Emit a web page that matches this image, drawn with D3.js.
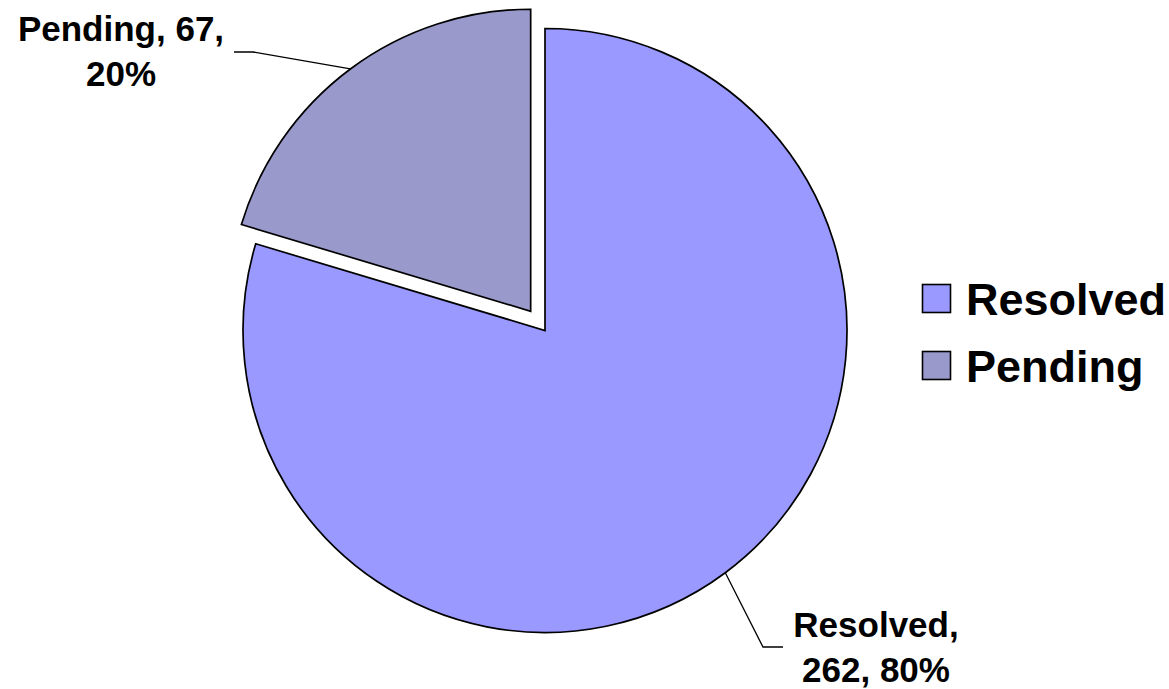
<!DOCTYPE html>
<html>
<head>
<meta charset="utf-8">
<script src="https://cdn.jsdelivr.net/npm/d3@7/dist/d3.min.js"></script>
<style>
  html, body { margin: 0; padding: 0; background: #fff; }
  svg { display: block; }
  text { font-family: "Liberation Sans", Arial, sans-serif; font-weight: bold; fill: #000; }
</style>
</head>
<body>
<svg id="chart"></svg>
<script>
const categories = ['Resolved', 'Pending'];
const values = [262, 67];
const percents = ['80%', '20%'];
const colors = ['#9999FF', '#9999CC'];

const width = 1169;
const height = 689;

const svg = d3.select('#chart')
  .attr('width', width)
  .attr('height', height);

const cx = 545;
const cy = 330.5;
const radius = 302;
const explode = 24;

const data = categories.map((c, i) => ({ name: c, value: values[i], pct: percents[i], color: colors[i] }));

const pie = d3.pie().sort(null).value((d) => d.value);
const arcs = pie(data);

const arc = d3.arc().innerRadius(0).outerRadius(radius);

// offset of a slice (only Pending is pulled out)
function offset(d) {
  if (d.data.name !== 'Pending') return [0, 0];
  const a = (d.startAngle + d.endAngle) / 2;
  return [Math.sin(a) * explode, -Math.cos(a) * explode];
}

const g = svg.append('g').attr('transform', `translate(${cx},${cy})`);

g.selectAll('path.slice')
  .data(arcs)
  .join('path')
  .attr('class', 'slice')
  .attr('transform', (d) => `translate(${offset(d)})`)
  .attr('d', arc)
  .attr('fill', (d) => d.data.color)
  .attr('stroke', '#000')
  .attr('stroke-width', 1.7)
  .attr('stroke-linejoin', 'miter');

//
// DATA LABELS + LEADER LINES
//

// label layout relative to the pie centre: elbow, line end, text centre
const labelLayout = {
  Resolved: { elbow: [218, 316.5], end: [238, 316.5], text: [331, 306.5] },
  Pending: { elbow: [-292, -278.5], end: [-311, -278.5], text: [-424, -289.5] },
};

const lineGap = 45;

arcs.forEach((d) => {
  const [ox, oy] = offset(d);
  const a = (d.startAngle + d.endAngle) / 2;
  const p0 = [ox + Math.sin(a) * radius, oy - Math.cos(a) * radius];
  const lay = labelLayout[d.data.name];

  g.append('polyline')
    .attr('points', [p0, lay.elbow, lay.end].map((p) => p.join(',')).join(' '))
    .attr('fill', 'none')
    .attr('stroke', '#000')
    .attr('stroke-width', 1.3);

  const lines = d.data.name === 'Pending'
    ? [`${d.data.name}, ${d.data.value},`, d.data.pct]
    : [`${d.data.name},`, `${d.data.value}, ${d.data.pct}`];

  const t = g.append('g')
    .attr('transform', `translate(${lay.text[0]},${lay.text[1]})`);

  lines.forEach((s, i) => {
    t.append('text')
      .attr('x', 0)
      .attr('y', i * lineGap)
      .attr('text-anchor', 'middle')
      .attr('font-size', 35)
      .text(s);
  });
});

//
// LEGEND
//

const legend = svg.append('g').attr('transform', 'translate(922,284)');
const rowGap = 67;

const item = legend.selectAll('g.item')
  .data(data)
  .join('g')
  .attr('class', 'item')
  .attr('transform', (d, i) => `translate(0,${i * rowGap})`);

item.append('rect')
  .attr('x', 0.5)
  .attr('y', 0.5)
  .attr('width', 28)
  .attr('height', 28)
  .attr('fill', (d) => d.color)
  .attr('stroke', '#000')
  .attr('stroke-width', 1.6);

item.append('text')
  .attr('x', 44)
  .attr('y', 31)
  .attr('font-size', 45)
  .text((d) => d.name);
</script>
</body>
</html>
